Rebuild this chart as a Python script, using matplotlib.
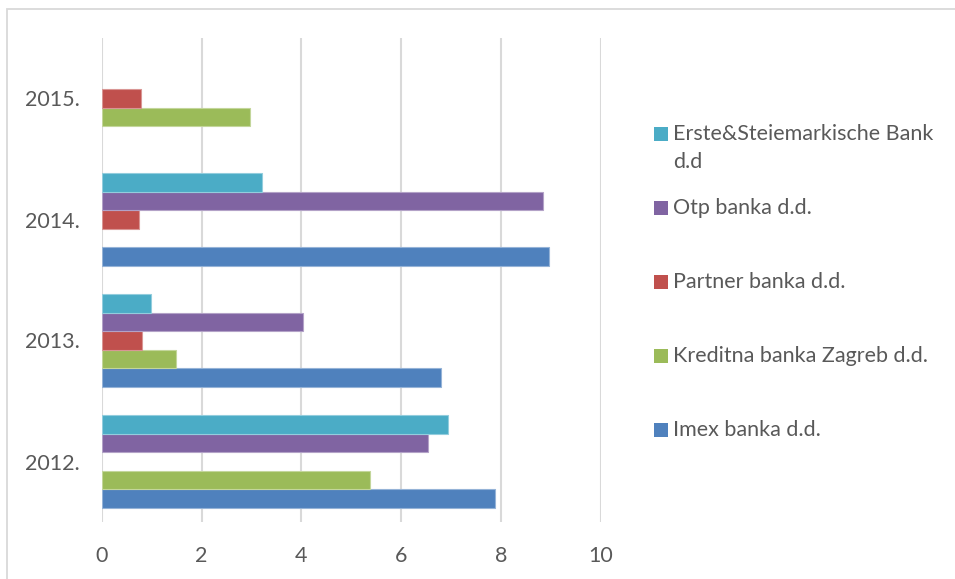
import matplotlib
matplotlib.use("Agg")
import matplotlib.pyplot as plt
import numpy as np
from matplotlib.patches import Rectangle

years = ["2012.", "2013.", "2014.", "2015."]
series_names = ["Imex banka d.d.", "Kreditna banka Zagreb d.d.", "Partner banka d.d.",
                "Otp banka d.d.", "Erste&Steiemarkische Bank\nd.d"]
imex = [7.88, 6.79, 8.96, np.nan]
kreditna = [5.37, 1.49, np.nan, 2.97]
partner = [np.nan, 0.81, 0.74, 0.79]
otp = [6.53, 4.03, 8.84, np.nan]
erste = [6.93, 0.98, 3.21, np.nan]
colors = ["#4F81BD", "#9BBB59", "#C0504D", "#8064A2", "#4BACC6"]
xticks = [0, 2, 4, 6, 8, 10]

values = [imex, kreditna, partner, otp, erste]

plt.rcParams['font.family'] = ['Lato', 'DejaVu Sans']
fig = plt.figure(figsize=(9.55, 5.79), dpi=100)
W, H = 955, 579
ax = fig.add_axes([101.7 / W, (579 - 522) / H, 499 / W, (522 - 38) / H])

n = len(series_names)
h = 1.0 / (n + 1.5)
y = np.arange(len(years))
for i, (vals, c) in enumerate(zip(values, colors)):
    edge = np.clip(np.array(matplotlib.colors.to_rgb(c)) * 0.6 + 0.4, 0, 1)
    ax.barh(y + (i - (n - 1) / 2) * h, vals, height=h, color=c,
            edgecolor=edge, linewidth=0.8, zorder=3)

ax.set_xlim(0, 10)
ax.set_ylim(-0.5, len(years) - 0.5)
ax.set_xticks(xticks)
ax.set_xticklabels([str(t) for t in xticks])
ax.set_yticks(y)
ax.set_yticklabels(years)
ax.tick_params(axis='both', length=0, colors="#595959", labelsize=15.5)
ax.tick_params(axis='x', pad=17)
ax.tick_params(axis='y', pad=16)
ax.grid(axis='x', color="#D9D9D9", linewidth=1.5, zorder=0)
for s in ax.spines.values():
    s.set_visible(False)

# chart border
fig.add_artist(Rectangle((7 / W, -0.05), 1.1, (579 - 8.5) / H + 0.05, transform=fig.transFigure,
                         fill=False, edgecolor="#D9D9D9", linewidth=1.3))

# legend (manual, top to bottom: Erste, Otp, Partner, Kreditna, Imex)
legend_y = [134, 208, 282, 356, 430]
for k, idx in enumerate(range(n - 1, -1, -1)):
    yy = legend_y[k]
    fig.add_artist(Rectangle((654 / W, (579 - yy - 7) / H), 14 / W, 14 / H,
                             transform=fig.transFigure, facecolor=colors[idx], edgecolor='none'))
    name = series_names[idx]
    if '\n' in name:
        first, second = name.split('\n')
        fig.text(673 / W, (579 - yy) / H, first, ha='left', va='center',
                 fontsize=15.5, color="#595959")
        fig.text(673 / W, (579 - yy - 28) / H, second, ha='left', va='center',
                 fontsize=15.5, color="#595959")
    else:
        fig.text(673 / W, (579 - yy) / H, name, ha='left', va='center',
                 fontsize=15.5, color="#595959")

fig.savefig("out.png", dpi=100)
